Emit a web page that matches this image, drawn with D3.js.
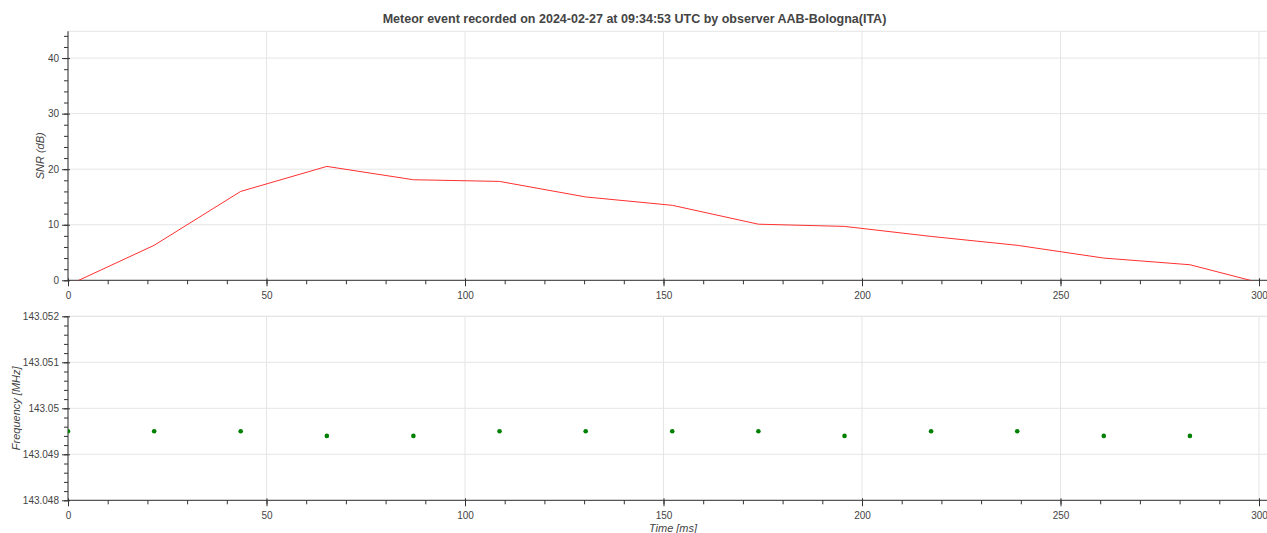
<!DOCTYPE html>
<html>
<head>
<meta charset="utf-8">
<script src="https://cdn.jsdelivr.net/npm/d3@7"></script>
<style>
  body { margin: 0; background: #fff; }
  svg { display: block; font-family: "Liberation Sans", Arial, Helvetica, sans-serif; }
  .tick text { fill: #444; font-size: 10px; }
  .grid line { stroke: #e5e5e5; }
</style>
</head>
<body>
<svg width="1267" height="533"></svg>
<script>
// data
var times = [0, 21.7, 43.5, 65.2, 87.0, 108.7, 130.4, 152.2, 173.9, 195.6, 217.4, 239.1, 260.9, 282.6, 304.3];
var snr = [-0.9, 6.3, 16.0, 20.5, 18.1, 17.8, 15.0, 13.5, 10.1, 9.7, 7.9, 6.3, 4.0, 2.8, -1.2];
var freq = [143.0495, 143.0495, 143.0495, 143.0494, 143.0494, 143.0495, 143.0495, 143.0495, 143.0495, 143.0494, 143.0495, 143.0495, 143.0494, 143.0494];
var xTicks = [0, 50, 100, 150, 200, 250, 300];
var snrTicks = [0, 10, 20, 30, 40];
var freqTicks = [143.048, 143.049, 143.05, 143.051, 143.052];
var title = "Meteor event recorded on 2024-02-27 at 09:34:53 UTC by observer AAB-Bologna(ITA)";

var svg = d3.select("svg");
var left = 68, right = 1272;

var x = d3.scaleLinear().domain([0, (right - left) / 3.97]).range([left, right]);
var xMinor = d3.range(0, 310, 10);

svg.append("text")
  .attr("x", 634.5).attr("y", 23)
  .attr("text-anchor", "middle")
  .style("font-size", "12.5px").style("font-weight", "bold").style("fill", "#444")
  .text(title);

function panel(top, bottom, domain, ticks, minorStep, fmt, id) {
  var y = d3.scaleLinear().domain(domain).range([bottom, top]);
  var g = svg.append("g");

  g.append("clipPath").attr("id", id)
    .append("rect").attr("x", left).attr("y", top).attr("width", right - left).attr("height", bottom - top);

  // outline + grids
  g.append("rect").attr("x", left).attr("y", top).attr("width", right - left).attr("height", bottom - top)
    .attr("fill", "none").attr("stroke", "#e5e5e5");
  g.append("g").attr("class", "grid")
    .selectAll("line").data(xTicks.slice(1)).enter().append("line")
    .attr("x1", function(d) { return x(d); }).attr("x2", function(d) { return x(d); })
    .attr("y1", top).attr("y2", bottom);
  g.append("g").attr("class", "grid")
    .selectAll("line").data(ticks.slice(1)).enter().append("line")
    .attr("x1", left).attr("x2", right)
    .attr("y1", function(d) { return y(d); }).attr("y2", function(d) { return y(d); });

  // minor ticks
  var yMinor = d3.range(domain[0], domain[1] + minorStep / 2, minorStep);
  g.append("g").attr("transform", "translate(" + left + ",0)")
    .call(d3.axisLeft(y).tickValues(yMinor).tickSize(4).tickFormat(""))
    .call(function(s) { s.select(".domain").remove(); });
  g.append("g").attr("transform", "translate(0," + bottom + ")")
    .call(d3.axisBottom(x).tickValues(xMinor).tickSize(4).tickFormat(""))
    .call(function(s) { s.select(".domain").remove(); });

  // major ticks
  var ya = g.append("g").attr("transform", "translate(" + left + ",0)")
    .call(d3.axisLeft(y).tickValues(ticks).tickSize(6).tickPadding(3).tickFormat(fmt));
  ya.select(".domain").remove();
  ya.selectAll(".tick line").attr("y1", 0).attr("x2", -6).attr("x1", 2);
  var xa = g.append("g").attr("transform", "translate(0," + bottom + ")")
    .call(d3.axisBottom(x).tickValues(xTicks).tickSize(6).tickPadding(6).tickFormat(d3.format("d")));
  xa.select(".domain").remove();
  xa.selectAll(".tick line").attr("y1", -2);

  g.append("line").attr("x1", left).attr("x2", left).attr("y1", top).attr("y2", bottom).attr("stroke", "#333");
  g.append("line").attr("x1", left).attr("x2", right).attr("y1", bottom).attr("y2", bottom).attr("stroke", "#333");
  g.selectAll(".tick line").attr("stroke", "#333");

  return { g: g, y: y };
}

var p1 = panel(31.3, 280.3, [0, 44.82], snrTicks, 2, d3.format("d"), "c1");
var p2 = panel(316.3, 500.3, [143.048, 143.052], freqTicks, 0.0002, function(d) { return d3.format(".6~f")(d); }, "c2");

p1.g.append("path")
  .datum(times)
  .attr("clip-path", "url(#c1)")
  .attr("fill", "none").attr("stroke", "#ff3030").attr("stroke-width", 1)
  .attr("d", d3.line().x(function(d) { return x(d); }).y(function(d, i) { return p1.y(snr[i]); }));

p2.g.append("g").attr("clip-path", "url(#c2)")
  .selectAll("circle").data(freq).enter().append("circle")
  .attr("cx", function(d, i) { return x(times[i]); })
  .attr("cy", function(d) { return p2.y(d); })
  .attr("r", 2.3).attr("fill", "green");

// axis labels
svg.append("text")
  .attr("transform", "translate(44," + 155.8 + ") rotate(-90)")
  .attr("text-anchor", "middle")
  .style("font-size", "11px").style("font-style", "italic").style("fill", "#444")
  .text("SNR (dB)");
svg.append("text")
  .attr("transform", "translate(20," + 408.3 + ") rotate(-90)")
  .attr("text-anchor", "middle")
  .style("font-size", "11px").style("font-style", "italic").style("fill", "#444")
  .text("Frequency [MHz]");
svg.append("text")
  .attr("x", 673).attr("y", 532)
  .attr("text-anchor", "middle")
  .style("font-size", "11px").style("font-style", "italic").style("fill", "#444")
  .text("Time [ms]");
</script>
</body>
</html>
